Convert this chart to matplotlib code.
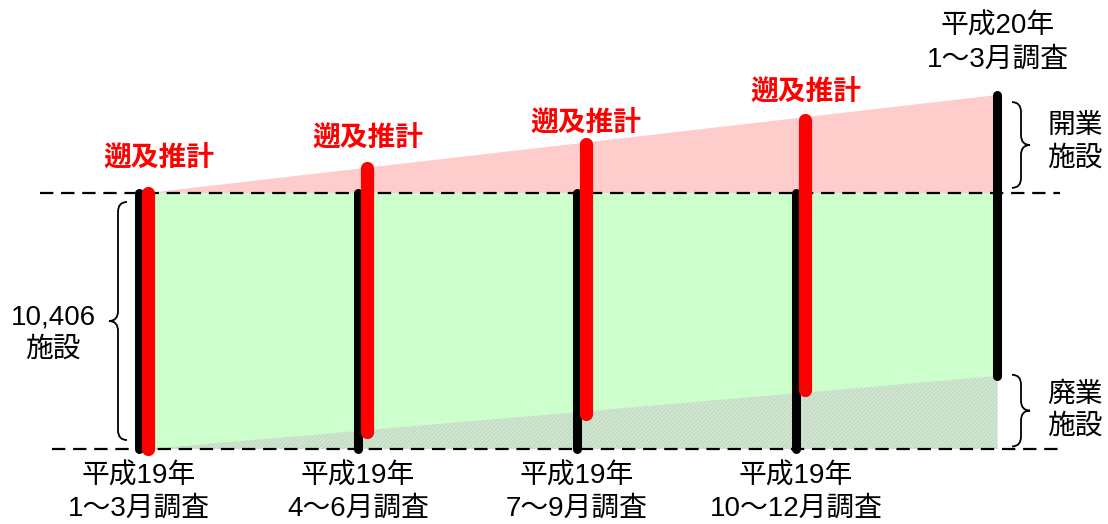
import matplotlib.pyplot as plt
from matplotlib.path import Path
from matplotlib.patches import PathPatch, Polygon

plt.rcParams['font.family'] = ['Liberation Sans', 'Noto Sans CJK JP', 'DejaVu Sans']
plt.rcParams['hatch.linewidth'] = 0.4

# survey positions (quarter index) and labels
survey_x = [0, 1, 2, 3, 3.92]
survey_labels = ["平成19年\n1～3月調査", "平成19年\n4～6月調査", "平成19年\n7～9月調査",
                 "平成19年\n10～12月調査", "平成20年\n1～3月調査"]

# facility counts, in units of the 10,406 base (0 = bottom line, 1 = top line)
black_top = [1.0, 1.0, 1.0, 1.0, 1.383]
black_bottom = [0.0, 0.0, 0.0, 0.0, 0.285]
red_top = [1.0, 1.098, 1.19, 1.285]
red_bottom = [0.0, 0.066, 0.137, 0.23]
red_label_y = [1.129, 1.207, 1.266, 1.39]
red_label_dx = [0.05, 0.005, 0.0, 0.005]
base_count = "10,406\n施設"

PX = 1 / 219.0   # one pixel in x data units
PY = 1 / 256.0   # one pixel in y data units
red_dx = 9 * PX

fig = plt.figure(figsize=(11.08, 5.24), dpi=100)
ax = fig.add_axes([0, 0, 1, 1])
ax.set_xlim(-139 * PX, (1108 - 139) * PX)
ax.set_ylim(-75 * PY, 449 * PY)
ax.axis('off')

x0 = survey_x[0] + red_dx
x1 = survey_x[-1]

# areas
ax.add_patch(Polygon([(x0, 1.0), (x1, black_top[-1]), (x1, 1.0)],
                     closed=True, facecolor='#ffcccc', edgecolor='none', zorder=1))
ax.add_patch(Polygon([(x0, 0.0), (x1, 0.0), (x1, 1.0), (x0, 1.0)],
                     closed=True, facecolor='#ccffcc', edgecolor='none', zorder=1))
ax.add_patch(Polygon([(x0, 0.0), (x1, black_bottom[-1]), (x1, 0.0)],
                     closed=True, facecolor='#cfe6cf', edgecolor='#bccabc',
                     hatch='////////', linewidth=0, zorder=1.5))

# dashed reference lines
ax.plot([40 * PX - 139 * PX, 1060 * PX - 139 * PX], [1.0, 1.0], color='black',
        lw=1.6, dashes=(6, 3.5), zorder=2)
ax.plot([52 * PX - 139 * PX, 1060 * PX - 139 * PX], [0.0, 0.0], color='black',
        lw=1.6, dashes=(6, 3.5), zorder=2)

# survey bars
for x, t, b in zip(survey_x, black_top, black_bottom):
    ax.plot([x, x], [b, t], color='black', lw=6.5, solid_capstyle='round', zorder=3)

for x, t, b, ly, ldx in zip(survey_x, red_top, red_bottom, red_label_y, red_label_dx):
    ax.plot([x + red_dx, x + red_dx], [b, t], color='#ff0000', lw=9.5,
            solid_capstyle='round', zorder=4)
    ax.text(x + red_dx + ldx, ly, "遡及推計", color='#ff0000', fontsize=20,
            fontweight='bold', ha='center', va='center', zorder=5)

# survey labels
for i, (x, lab) in enumerate(zip(survey_x, survey_labels)):
    y = 1.585 if i == len(survey_x) - 1 else -0.17
    ax.text(x, y, lab, fontsize=20, ha='center', va='center', linespacing=1.32)


def brace(xs, y0, y1, d, rx=8, ry=10, ym=None):
    if ym is None:
        ym = (y0 + y1) / 2
    rx = rx * PX
    ry = ry * PY
    verts = [(xs - d * rx, y0), (xs, y0), (xs, y0 + ry),
             (xs, ym - ry), (xs, ym), (xs + d * rx, ym),
             (xs, ym), (xs, ym + ry),
             (xs, y1 - ry), (xs, y1), (xs - d * rx, y1)]
    codes = [Path.MOVETO, Path.CURVE3, Path.CURVE3,
             Path.LINETO, Path.CURVE3, Path.CURVE3,
             Path.CURVE3, Path.CURVE3,
             Path.LINETO, Path.CURVE3, Path.CURVE3]
    ax.add_patch(PathPatch(Path(verts, codes), facecolor='none',
                           edgecolor='black', lw=1.3, zorder=3))


brace((118 - 139) * PX, 0.035, 0.965, -1, rx=9, ym=0.5)
brace((1021 - 139) * PX, 1.02, 1.355, 1, rx=9)
brace((1021 - 139) * PX, 0.01, 0.29, 1, rx=9)

ax.text((53 - 139) * PX, 0.45, base_count, fontsize=20, ha='center', va='center',
        linespacing=1.32)
ax.text((1075 - 139) * PX, (449 - 143) * PY, "開業\n施設", fontsize=20,
        ha='center', va='center', linespacing=1.32)
ax.text((1075 - 139) * PX, (449 - 411) * PY, "廃業\n施設", fontsize=20,
        ha='center', va='center', linespacing=1.32)

fig.savefig("out.png", dpi=100)
